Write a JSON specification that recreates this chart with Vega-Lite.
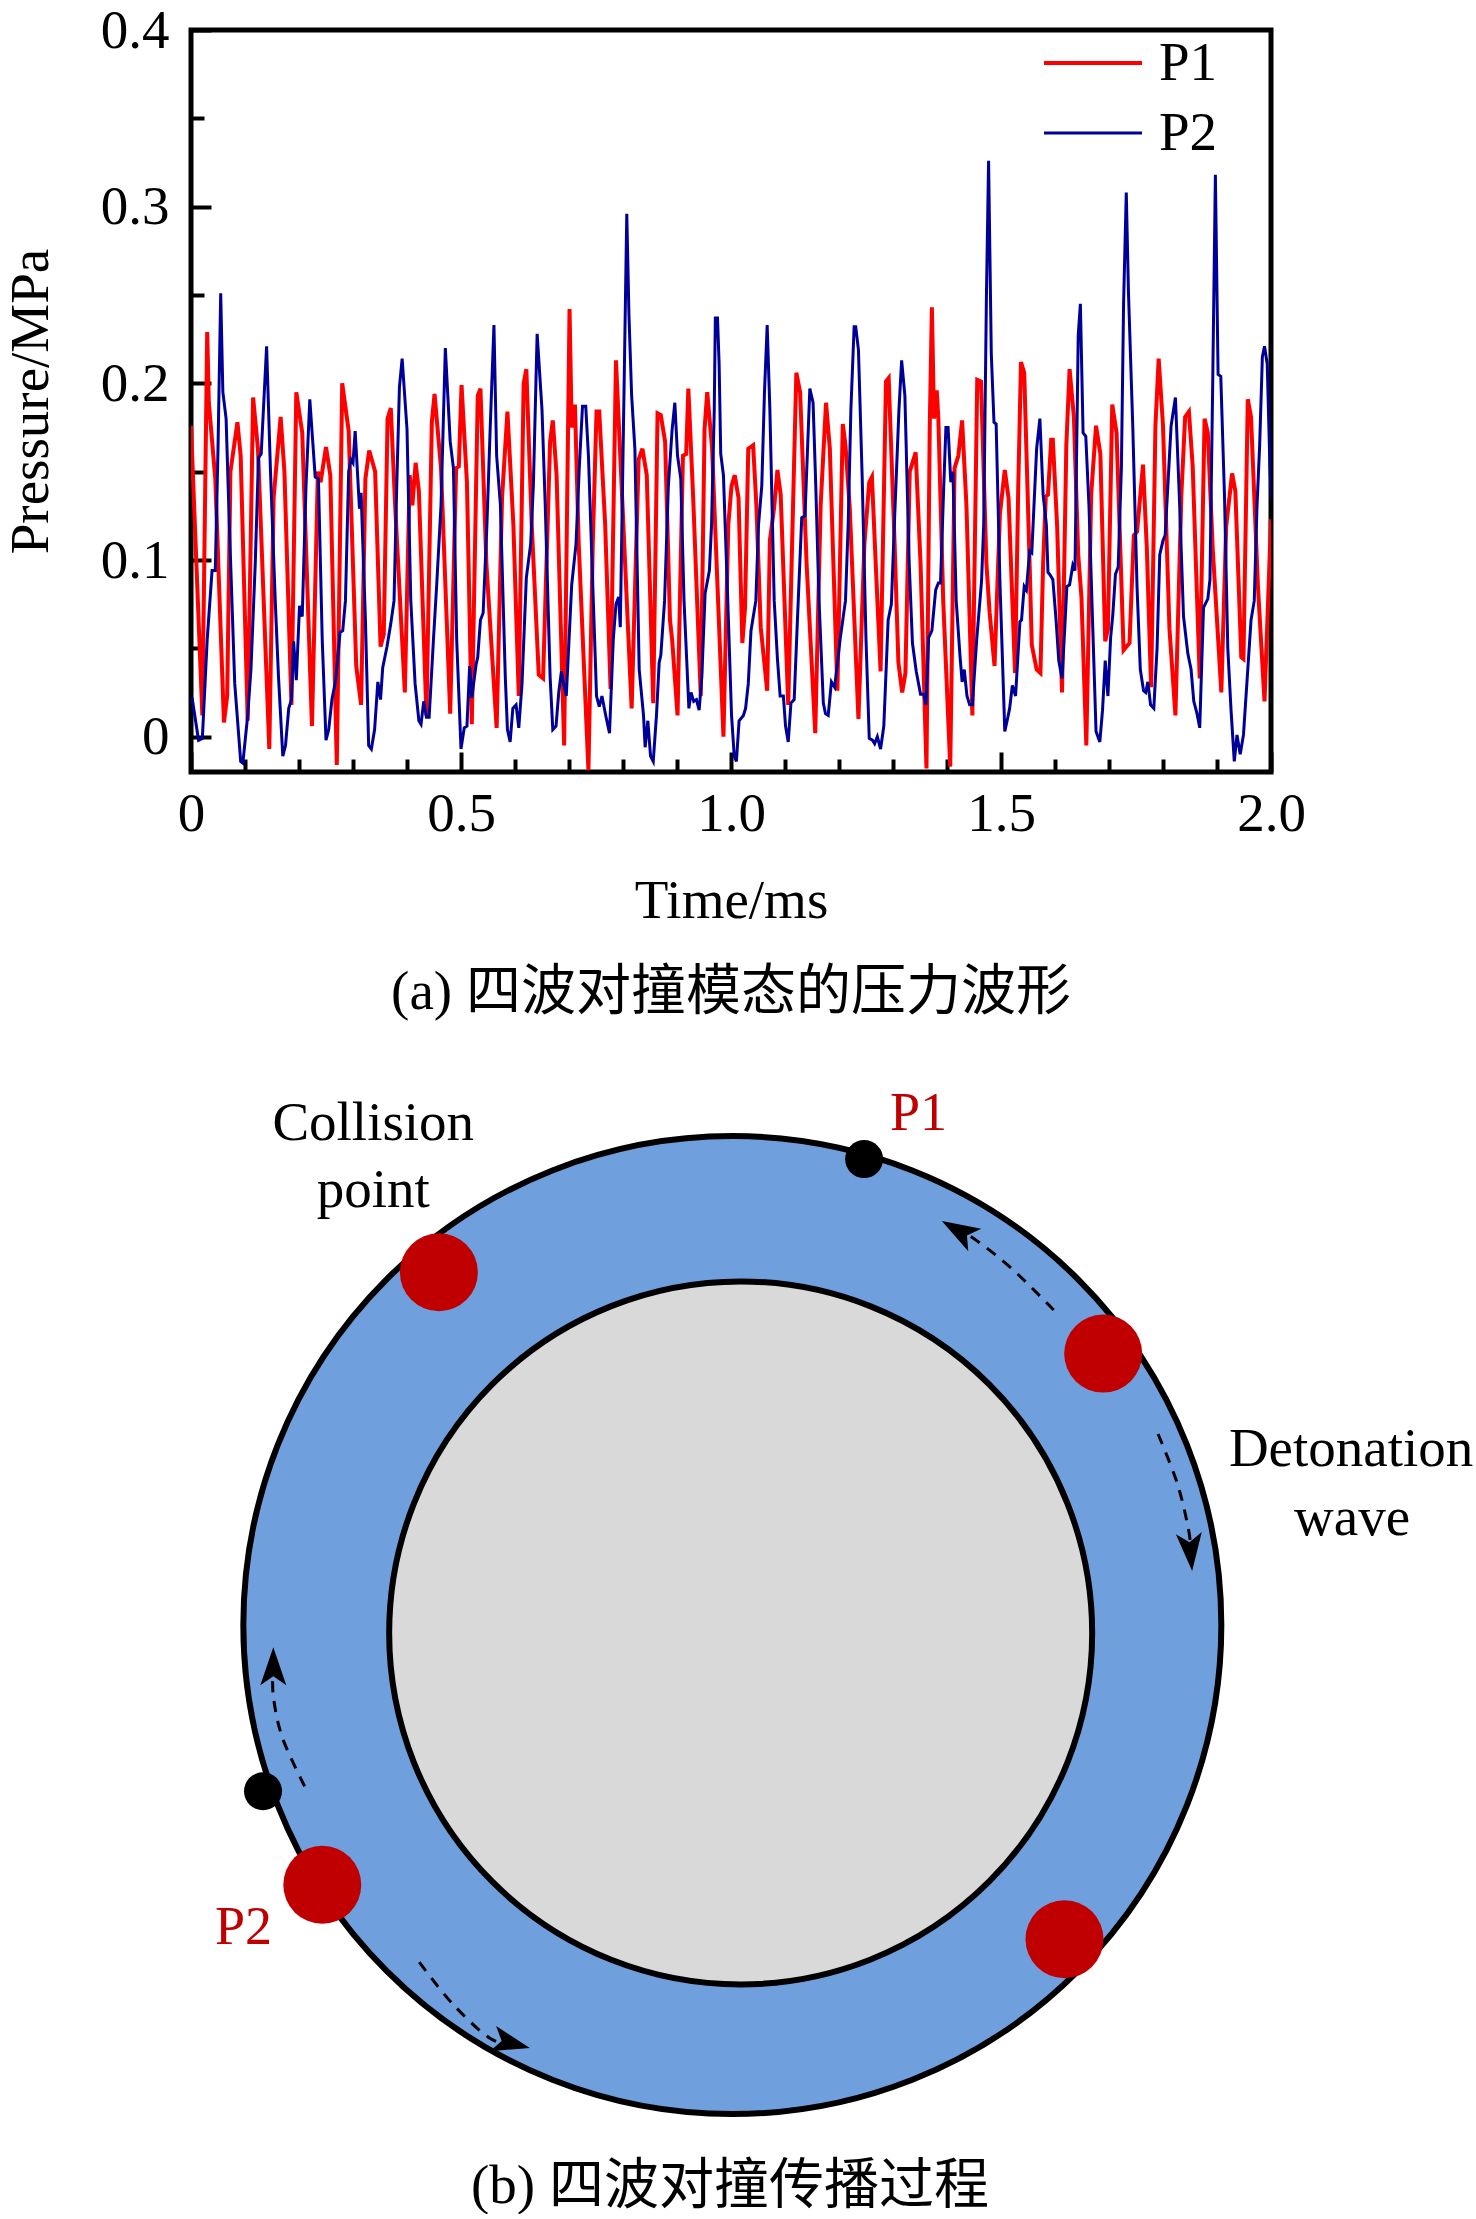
{
"$schema":"https://vega.github.io/schema/vega-lite/v6.json",
"padding":{"left":0,"top":0,"right":0,"bottom":0},
"background":"white",
"spacing":42,
"config":{"font":"Liberation Serif","style":{"guide-label":{"font":"Liberation Serif"}}},
"vconcat":[
{
"width":1080,"height":742,
"view":{"stroke":"black","strokeWidth":5,"fill":"white"},
"title":{"text":"(a) 四波对撞模态的压力波形","orient":"bottom","anchor":"middle","font":"Liberation Serif, Noto Sans CJK SC","fontSize":55,"fontWeight":"normal","color":"black","offset":38},
"data":{"values":[
{"t":0,"p":0.176,"s":"P1"},{"t":0.021,"p":0.012,"s":"P1"},{"t":0.03,"p":0.229,"s":"P1"},{"t":0.033,"p":0.189,"s":"P1"},{"t":0.045,"p":0.146,"s":"P1"},{"t":0.061,"p":0.008,"s":"P1"},{"t":0.067,"p":0.023,"s":"P1"},{"t":0.073,"p":0.15,"s":"P1"},{"t":0.086,"p":0.178,"s":"P1"},{"t":0.092,"p":0.159,"s":"P1"},{"t":0.105,"p":0.009,"s":"P1"},{"t":0.115,"p":0.192,"s":"P1"},{"t":0.124,"p":0.163,"s":"P1"},{"t":0.145,"p":-0.007,"s":"P1"},{"t":0.153,"p":0.135,"s":"P1"},{"t":0.166,"p":0.181,"s":"P1"},{"t":0.173,"p":0.15,"s":"P1"},{"t":0.186,"p":0.018,"s":"P1"},{"t":0.195,"p":0.195,"s":"P1"},{"t":0.206,"p":0.172,"s":"P1"},{"t":0.224,"p":0.006,"s":"P1"},{"t":0.235,"p":0.15,"s":"P1"},{"t":0.24,"p":0.144,"s":"P1"},{"t":0.25,"p":0.164,"s":"P1"},{"t":0.258,"p":0.148,"s":"P1"},{"t":0.27,"p":-0.016,"s":"P1"},{"t":0.28,"p":0.2,"s":"P1"},{"t":0.292,"p":0.173,"s":"P1"},{"t":0.306,"p":0.04,"s":"P1"},{"t":0.315,"p":0.018,"s":"P1"},{"t":0.323,"p":0.146,"s":"P1"},{"t":0.33,"p":0.162,"s":"P1"},{"t":0.341,"p":0.15,"s":"P1"},{"t":0.351,"p":0.051,"s":"P1"},{"t":0.357,"p":0.058,"s":"P1"},{"t":0.364,"p":0.18,"s":"P1"},{"t":0.37,"p":0.186,"s":"P1"},{"t":0.378,"p":0.131,"s":"P1"},{"t":0.396,"p":0.025,"s":"P1"},
{"t":0.405,"p":0.148,"s":"P1"},{"t":0.41,"p":0.131,"s":"P1"},{"t":0.416,"p":0.155,"s":"P1"},{"t":0.422,"p":0.139,"s":"P1"},{"t":0.436,"p":0.012,"s":"P1"},{"t":0.446,"p":0.178,"s":"P1"},{"t":0.451,"p":0.194,"s":"P1"},{"t":0.463,"p":0.152,"s":"P1"},{"t":0.48,"p":0.013,"s":"P1"},{"t":0.491,"p":0.152,"s":"P1"},{"t":0.496,"p":0.153,"s":"P1"},{"t":0.501,"p":0.199,"s":"P1"},{"t":0.511,"p":0.144,"s":"P1"},{"t":0.52,"p":0.007,"s":"P1"},{"t":0.531,"p":0.193,"s":"P1"},{"t":0.536,"p":0.197,"s":"P1"},{"t":0.547,"p":0.098,"s":"P1"},{"t":0.566,"p":0.005,"s":"P1"},{"t":0.576,"p":0.135,"s":"P1"},{"t":0.586,"p":0.184,"s":"P1"},{"t":0.597,"p":0.12,"s":"P1"},{"t":0.607,"p":0.023,"s":"P1"},{"t":0.616,"p":0.2,"s":"P1"},{"t":0.621,"p":0.208,"s":"P1"},{"t":0.631,"p":0.12,"s":"P1"},{"t":0.644,"p":0.035,"s":"P1"},{"t":0.652,"p":0.033,"s":"P1"},{"t":0.665,"p":0.167,"s":"P1"},{"t":0.67,"p":0.179,"s":"P1"},{"t":0.677,"p":0.148,"s":"P1"},{"t":0.691,"p":-0.005,"s":"P1"},{"t":0.701,"p":0.242,"s":"P1"},{"t":0.705,"p":0.175,"s":"P1"},{"t":0.711,"p":0.188,"s":"P1"},{"t":0.718,"p":0.109,"s":"P1"},{"t":0.736,"p":-0.019,"s":"P1"},{"t":0.744,"p":0.109,"s":"P1"},{"t":0.751,"p":0.184,"s":"P1"},{"t":0.756,"p":0.184,"s":"P1"},{"t":0.767,"p":0.12,"s":"P1"},{"t":0.777,"p":0.027,"s":"P1"},{"t":0.787,"p":0.213,"s":"P1"},
{"t":0.816,"p":0.016,"s":"P1"},{"t":0.829,"p":0.157,"s":"P1"},{"t":0.836,"p":0.163,"s":"P1"},{"t":0.844,"p":0.148,"s":"P1"},{"t":0.856,"p":0.019,"s":"P1"},{"t":0.864,"p":0.183,"s":"P1"},{"t":0.87,"p":0.182,"s":"P1"},{"t":0.878,"p":0.167,"s":"P1"},{"t":0.887,"p":0.066,"s":"P1"},{"t":0.891,"p":0.055,"s":"P1"},{"t":0.901,"p":0.012,"s":"P1"},{"t":0.911,"p":0.159,"s":"P1"},{"t":0.917,"p":0.16,"s":"P1"},{"t":0.921,"p":0.197,"s":"P1"},{"t":0.93,"p":0.135,"s":"P1"},{"t":0.944,"p":0.023,"s":"P1"},{"t":0.951,"p":0.174,"s":"P1"},{"t":0.956,"p":0.195,"s":"P1"},{"t":0.965,"p":0.163,"s":"P1"},{"t":0.986,"p":0,"s":"P1"},{"t":0.995,"p":0.12,"s":"P1"},{"t":1.001,"p":0.142,"s":"P1"},{"t":1.007,"p":0.148,"s":"P1"},{"t":1.014,"p":0.135,"s":"P1"},{"t":1.021,"p":0.053,"s":"P1"},{"t":1.026,"p":0.073,"s":"P1"},{"t":1.032,"p":0.163,"s":"P1"},{"t":1.041,"p":0.165,"s":"P1"},{"t":1.047,"p":0.131,"s":"P1"},{"t":1.055,"p":0.062,"s":"P1"},{"t":1.067,"p":0.026,"s":"P1"},{"t":1.072,"p":0.111,"s":"P1"},{"t":1.08,"p":0.13,"s":"P1"},{"t":1.086,"p":0.151,"s":"P1"},{"t":1.092,"p":0.137,"s":"P1"},{"t":1.106,"p":0.018,"s":"P1"},{"t":1.114,"p":0.12,"s":"P1"},{"t":1.121,"p":0.206,"s":"P1"},{"t":1.128,"p":0.195,"s":"P1"},{"t":1.14,"p":0.098,"s":"P1"},{"t":1.156,"p":0.002,"s":"P1"},{"t":1.166,"p":0.131,"s":"P1"},{"t":1.176,"p":0.189,"s":"P1"},{"t":1.183,"p":0.163,"s":"P1"},
{"t":1.197,"p":0.026,"s":"P1"},{"t":1.207,"p":0.177,"s":"P1"},{"t":1.212,"p":0.165,"s":"P1"},{"t":1.22,"p":0.129,"s":"P1"},{"t":1.236,"p":0.01,"s":"P1"},{"t":1.247,"p":0.109,"s":"P1"},{"t":1.256,"p":0.144,"s":"P1"},{"t":1.261,"p":0.147,"s":"P1"},{"t":1.268,"p":0.098,"s":"P1"},{"t":1.277,"p":0.037,"s":"P1"},{"t":1.287,"p":0.201,"s":"P1"},{"t":1.292,"p":0.203,"s":"P1"},{"t":1.303,"p":0.109,"s":"P1"},{"t":1.31,"p":0.042,"s":"P1"},{"t":1.317,"p":0.025,"s":"P1"},{"t":1.323,"p":0.036,"s":"P1"},{"t":1.331,"p":0.15,"s":"P1"},{"t":1.342,"p":0.161,"s":"P1"},{"t":1.351,"p":0.098,"s":"P1"},{"t":1.362,"p":-0.018,"s":"P1"},{"t":1.368,"p":0.174,"s":"P1"},{"t":1.372,"p":0.243,"s":"P1"},{"t":1.376,"p":0.18,"s":"P1"},{"t":1.381,"p":0.196,"s":"P1"},{"t":1.384,"p":0.18,"s":"P1"},{"t":1.393,"p":0.077,"s":"P1"},{"t":1.406,"p":-0.017,"s":"P1"},{"t":1.414,"p":0.152,"s":"P1"},{"t":1.421,"p":0.159,"s":"P1"},{"t":1.428,"p":0.179,"s":"P1"},{"t":1.436,"p":0.131,"s":"P1"},{"t":1.447,"p":0.012,"s":"P1"},{"t":1.456,"p":0.202,"s":"P1"},{"t":1.463,"p":0.201,"s":"P1"},{"t":1.473,"p":0.098,"s":"P1"},{"t":1.479,"p":0.07,"s":"P1"},{"t":1.488,"p":0.04,"s":"P1"},{"t":1.498,"p":0.126,"s":"P1"},{"t":1.507,"p":0.151,"s":"P1"},{"t":1.514,"p":0.135,"s":"P1"},{"t":1.526,"p":0.036,"s":"P1"},{"t":1.532,"p":0.142,"s":"P1"},{"t":1.537,"p":0.212,"s":"P1"},{"t":1.543,"p":0.206,"s":"P1"},{"t":1.553,"p":0.098,"s":"P1"},{"t":1.557,"p":0.052,"s":"P1"},{"t":1.566,"p":0.038,"s":"P1"},{"t":1.573,"p":0.036,"s":"P1"},{"t":1.578,"p":0.098,"s":"P1"},{"t":1.583,"p":0.136,"s":"P1"},{"t":1.587,"p":0.137,"s":"P1"},{"t":1.593,"p":0.168,"s":"P1"},
{"t":1.596,"p":0.168,"s":"P1"},{"t":1.604,"p":0.119,"s":"P1"},{"t":1.613,"p":0.025,"s":"P1"},{"t":1.621,"p":0.165,"s":"P1"},{"t":1.627,"p":0.208,"s":"P1"},{"t":1.635,"p":0.181,"s":"P1"},{"t":1.643,"p":0.103,"s":"P1"},{"t":1.649,"p":0.079,"s":"P1"},{"t":1.658,"p":-0.005,"s":"P1"},{"t":1.667,"p":0.137,"s":"P1"},{"t":1.676,"p":0.176,"s":"P1"},{"t":1.684,"p":0.16,"s":"P1"},{"t":1.693,"p":0.054,"s":"P1"},{"t":1.698,"p":0.061,"s":"P1"},{"t":1.706,"p":0.188,"s":"P1"},{"t":1.714,"p":0.172,"s":"P1"},{"t":1.727,"p":0.049,"s":"P1"},{"t":1.738,"p":0.053,"s":"P1"},{"t":1.746,"p":0.114,"s":"P1"},{"t":1.752,"p":0.116,"s":"P1"},{"t":1.763,"p":0.154,"s":"P1"},{"t":1.77,"p":0.107,"s":"P1"},{"t":1.778,"p":0.028,"s":"P1"},{"t":1.786,"p":0.176,"s":"P1"},{"t":1.792,"p":0.214,"s":"P1"},{"t":1.8,"p":0.176,"s":"P1"},{"t":1.812,"p":0.061,"s":"P1"},{"t":1.823,"p":0.012,"s":"P1"},{"t":1.834,"p":0.137,"s":"P1"},{"t":1.841,"p":0.181,"s":"P1"},{"t":1.848,"p":0.184,"s":"P1"},{"t":1.855,"p":0.153,"s":"P1"},{"t":1.868,"p":0.033,"s":"P1"},{"t":1.877,"p":0.18,"s":"P1"},{"t":1.883,"p":0.172,"s":"P1"},{"t":1.892,"p":0.107,"s":"P1"},{"t":1.908,"p":0.025,"s":"P1"},{"t":1.917,"p":0.119,"s":"P1"},{"t":1.928,"p":0.149,"s":"P1"},{"t":1.934,"p":0.139,"s":"P1"},{"t":1.945,"p":0.045,"s":"P1"},{"t":1.949,"p":0.044,"s":"P1"},{"t":1.957,"p":0.191,"s":"P1"},{"t":1.963,"p":0.181,"s":"P1"},{"t":1.976,"p":0.084,"s":"P1"},{"t":1.988,"p":0.02,"s":"P1"},{"t":2,"p":0.123,"s":"P1"},
{"t":0.002,"p":0.022,"s":"P2"},{"t":0.014,"p":-0.002,"s":"P2"},{"t":0.021,"p":-0.001,"s":"P2"},{"t":0.03,"p":0.055,"s":"P2"},{"t":0.039,"p":0.094,"s":"P2"},{"t":0.045,"p":0.094,"s":"P2"},{"t":0.05,"p":0.163,"s":"P2"},{"t":0.055,"p":0.251,"s":"P2"},{"t":0.059,"p":0.195,"s":"P2"},{"t":0.065,"p":0.18,"s":"P2"},{"t":0.071,"p":0.12,"s":"P2"},{"t":0.081,"p":0.03,"s":"P2"},{"t":0.085,"p":0.014,"s":"P2"},{"t":0.092,"p":-0.014,"s":"P2"},{"t":0.096,"p":-0.015,"s":"P2"},{"t":0.105,"p":0.012,"s":"P2"},{"t":0.111,"p":0.038,"s":"P2"},{"t":0.119,"p":0.098,"s":"P2"},{"t":0.125,"p":0.158,"s":"P2"},{"t":0.13,"p":0.16,"s":"P2"},{"t":0.14,"p":0.221,"s":"P2"},{"t":0.147,"p":0.152,"s":"P2"},{"t":0.156,"p":0.077,"s":"P2"},{"t":0.162,"p":0.034,"s":"P2"},{"t":0.17,"p":-0.011,"s":"P2"},{"t":0.175,"p":-0.005,"s":"P2"},{"t":0.181,"p":0.016,"s":"P2"},{"t":0.186,"p":0.021,"s":"P2"},{"t":0.19,"p":0.054,"s":"P2"},{"t":0.195,"p":0.032,"s":"P2"},{"t":0.201,"p":0.074,"s":"P2"},{"t":0.206,"p":0.068,"s":"P2"},{"t":0.213,"p":0.142,"s":"P2"},{"t":0.22,"p":0.191,"s":"P2"},{"t":0.23,"p":0.147,"s":"P2"},{"t":0.236,"p":0.146,"s":"P2"},{"t":0.243,"p":0.055,"s":"P2"},{"t":0.25,"p":-0.002,"s":"P2"},{"t":0.255,"p":0.004,"s":"P2"},{"t":0.261,"p":0.021,"s":"P2"},{"t":0.268,"p":0.032,"s":"P2"},{"t":0.276,"p":0.059,"s":"P2"},{"t":0.281,"p":0.06,"s":"P2"},{"t":0.286,"p":0.077,"s":"P2"},{"t":0.292,"p":0.15,"s":"P2"},{"t":0.296,"p":0.157,"s":"P2"},{"t":0.3,"p":0.155,"s":"P2"},{"t":0.304,"p":0.173,"s":"P2"},{"t":0.312,"p":0.129,"s":"P2"},{"t":0.315,"p":0.138,"s":"P2"},{"t":0.323,"p":0.066,"s":"P2"},{"t":0.329,"p":-0.005,"s":"P2"},{"t":0.334,"p":-0.007,"s":"P2"},{"t":0.34,"p":0.004,"s":"P2"},{"t":0.346,"p":0.031,"s":"P2"},{"t":0.351,"p":0.021,"s":"P2"},{"t":0.355,"p":0.039,"s":"P2"},{"t":0.363,"p":0.051,"s":"P2"},{"t":0.37,"p":0.064,"s":"P2"},{"t":0.376,"p":0.077,"s":"P2"},{"t":0.381,"p":0.142,"s":"P2"},{"t":0.386,"p":0.198,"s":"P2"},{"t":0.391,"p":0.214,"s":"P2"},
{"t":0.4,"p":0.174,"s":"P2"},{"t":0.407,"p":0.077,"s":"P2"},{"t":0.415,"p":0.03,"s":"P2"},{"t":0.422,"p":0.009,"s":"P2"},{"t":0.426,"p":0.007,"s":"P2"},{"t":0.431,"p":0.02,"s":"P2"},{"t":0.436,"p":0.011,"s":"P2"},{"t":0.441,"p":0.011,"s":"P2"},{"t":0.449,"p":0.055,"s":"P2"},{"t":0.455,"p":0.086,"s":"P2"},{"t":0.463,"p":0.131,"s":"P2"},{"t":0.471,"p":0.22,"s":"P2"},{"t":0.48,"p":0.167,"s":"P2"},{"t":0.486,"p":0.152,"s":"P2"},{"t":0.492,"p":0.055,"s":"P2"},{"t":0.5,"p":-0.007,"s":"P2"},{"t":0.506,"p":0.005,"s":"P2"},{"t":0.511,"p":0.006,"s":"P2"},{"t":0.516,"p":0.04,"s":"P2"},{"t":0.52,"p":0.022,"s":"P2"},{"t":0.528,"p":0.041,"s":"P2"},{"t":0.531,"p":0.045,"s":"P2"},{"t":0.536,"p":0.066,"s":"P2"},{"t":0.541,"p":0.07,"s":"P2"},{"t":0.548,"p":0.12,"s":"P2"},{"t":0.554,"p":0.174,"s":"P2"},{"t":0.561,"p":0.233,"s":"P2"},{"t":0.566,"p":0.159,"s":"P2"},{"t":0.573,"p":0.131,"s":"P2"},{"t":0.582,"p":0.034,"s":"P2"},{"t":0.586,"p":0.004,"s":"P2"},{"t":0.591,"p":-0.003,"s":"P2"},{"t":0.596,"p":0.016,"s":"P2"},{"t":0.602,"p":0.018,"s":"P2"},{"t":0.607,"p":0.005,"s":"P2"},{"t":0.613,"p":0.03,"s":"P2"},{"t":0.621,"p":0.09,"s":"P2"},{"t":0.629,"p":0.109,"s":"P2"},{"t":0.634,"p":0.142,"s":"P2"},{"t":0.641,"p":0.228,"s":"P2"},{"t":0.65,"p":0.185,"s":"P2"},{"t":0.656,"p":0.131,"s":"P2"},{"t":0.665,"p":0.034,"s":"P2"},{"t":0.67,"p":0.004,"s":"P2"},{"t":0.676,"p":0.006,"s":"P2"},{"t":0.681,"p":0.025,"s":"P2"},{"t":0.686,"p":0.037,"s":"P2"},{"t":0.69,"p":0.03,"s":"P2"},{"t":0.695,"p":0.023,"s":"P2"},{"t":0.705,"p":0.086,"s":"P2"},{"t":0.713,"p":0.109,"s":"P2"},{"t":0.719,"p":0.152,"s":"P2"},{"t":0.725,"p":0.187,"s":"P2"},{"t":0.731,"p":0.187,"s":"P2"},{"t":0.736,"p":0.159,"s":"P2"},{"t":0.745,"p":0.077,"s":"P2"},{"t":0.751,"p":0.023,"s":"P2"},{"t":0.756,"p":0.017,"s":"P2"},{"t":0.761,"p":0.023,"s":"P2"},{"t":0.768,"p":0.012,"s":"P2"},{"t":0.775,"p":0.002,"s":"P2"},{"t":0.782,"p":0.055,"s":"P2"},{"t":0.787,"p":0.075,"s":"P2"},{"t":0.792,"p":0.079,"s":"P2"},
{"t":0.795,"p":0.062,"s":"P2"},{"t":0.803,"p":0.217,"s":"P2"},{"t":0.807,"p":0.296,"s":"P2"},{"t":0.811,"p":0.239,"s":"P2"},{"t":0.816,"p":0.193,"s":"P2"},{"t":0.822,"p":0.163,"s":"P2"},{"t":0.83,"p":0.038,"s":"P2"},{"t":0.838,"p":0.012,"s":"P2"},{"t":0.841,"p":-0.006,"s":"P2"},{"t":0.846,"p":0.009,"s":"P2"},{"t":0.851,"p":-0.011,"s":"P2"},{"t":0.856,"p":-0.014,"s":"P2"},{"t":0.862,"p":0.012,"s":"P2"},{"t":0.867,"p":0.042,"s":"P2"},{"t":0.87,"p":0.046,"s":"P2"},{"t":0.877,"p":0.077,"s":"P2"},{"t":0.884,"p":0.142,"s":"P2"},{"t":0.891,"p":0.174,"s":"P2"},{"t":0.896,"p":0.189,"s":"P2"},{"t":0.901,"p":0.159,"s":"P2"},{"t":0.907,"p":0.146,"s":"P2"},{"t":0.913,"p":0.077,"s":"P2"},{"t":0.922,"p":0.016,"s":"P2"},{"t":0.926,"p":0.025,"s":"P2"},{"t":0.931,"p":0.02,"s":"P2"},{"t":0.936,"p":0.021,"s":"P2"},{"t":0.941,"p":0.015,"s":"P2"},{"t":0.946,"p":0.034,"s":"P2"},{"t":0.952,"p":0.081,"s":"P2"},{"t":0.96,"p":0.094,"s":"P2"},{"t":0.964,"p":0.12,"s":"P2"},{"t":0.969,"p":0.185,"s":"P2"},{"t":0.971,"p":0.237,"s":"P2"},{"t":0.975,"p":0.237,"s":"P2"},{"t":0.978,"p":0.211,"s":"P2"},{"t":0.981,"p":0.16,"s":"P2"},{"t":0.986,"p":0.148,"s":"P2"},{"t":0.994,"p":0.077,"s":"P2"},{"t":1.001,"p":0.012,"s":"P2"},{"t":1.006,"p":-0.011,"s":"P2"},{"t":1.01,"p":-0.014,"s":"P2"},{"t":1.015,"p":0.009,"s":"P2"},{"t":1.023,"p":0.012,"s":"P2"},{"t":1.027,"p":0.016,"s":"P2"},{"t":1.032,"p":0.03,"s":"P2"},{"t":1.037,"p":0.06,"s":"P2"},{"t":1.046,"p":0.077,"s":"P2"},{"t":1.051,"p":0.12,"s":"P2"},{"t":1.057,"p":0.142,"s":"P2"},{"t":1.062,"p":0.195,"s":"P2"},{"t":1.067,"p":0.233,"s":"P2"},{"t":1.072,"p":0.185,"s":"P2"},{"t":1.08,"p":0.077,"s":"P2"},{"t":1.086,"p":0.044,"s":"P2"},{"t":1.091,"p":0.023,"s":"P2"},{"t":1.097,"p":0.023,"s":"P2"},{"t":1.101,"p":0.006,"s":"P2"},{"t":1.106,"p":-0.003,"s":"P2"},{"t":1.111,"p":0.019,"s":"P2"},{"t":1.117,"p":0.021,"s":"P2"},{"t":1.123,"p":0.066,"s":"P2"},{"t":1.131,"p":0.124,"s":"P2"},{"t":1.137,"p":0.125,"s":"P2"},{"t":1.146,"p":0.197,"s":"P2"},{"t":1.152,"p":0.189,"s":"P2"},{"t":1.157,"p":0.142,"s":"P2"},{"t":1.163,"p":0.077,"s":"P2"},{"t":1.171,"p":0.019,"s":"P2"},{"t":1.175,"p":0.013,"s":"P2"},{"t":1.18,"p":0.012,"s":"P2"},{"t":1.186,"p":0.031,"s":"P2"},{"t":1.192,"p":0.028,"s":"P2"},
{"t":1.202,"p":0.055,"s":"P2"},{"t":1.212,"p":0.077,"s":"P2"},{"t":1.217,"p":0.12,"s":"P2"},{"t":1.222,"p":0.185,"s":"P2"},{"t":1.228,"p":0.232,"s":"P2"},{"t":1.231,"p":0.232,"s":"P2"},{"t":1.236,"p":0.219,"s":"P2"},{"t":1.243,"p":0.146,"s":"P2"},{"t":1.25,"p":0.055,"s":"P2"},{"t":1.256,"p":-0.001,"s":"P2"},{"t":1.262,"p":-0.002,"s":"P2"},{"t":1.266,"p":-0.004,"s":"P2"},{"t":1.271,"p":0,"s":"P2"},{"t":1.277,"p":-0.007,"s":"P2"},{"t":1.283,"p":0.006,"s":"P2"},{"t":1.291,"p":0.066,"s":"P2"},{"t":1.297,"p":0.075,"s":"P2"},{"t":1.303,"p":0.124,"s":"P2"},{"t":1.311,"p":0.185,"s":"P2"},{"t":1.316,"p":0.213,"s":"P2"},{"t":1.322,"p":0.193,"s":"P2"},{"t":1.33,"p":0.098,"s":"P2"},{"t":1.336,"p":0.053,"s":"P2"},{"t":1.343,"p":0.037,"s":"P2"},{"t":1.351,"p":0.024,"s":"P2"},{"t":1.357,"p":0.024,"s":"P2"},{"t":1.361,"p":0.018,"s":"P2"},{"t":1.366,"p":0.056,"s":"P2"},{"t":1.372,"p":0.06,"s":"P2"},{"t":1.379,"p":0.083,"s":"P2"},{"t":1.384,"p":0.087,"s":"P2"},{"t":1.388,"p":0.087,"s":"P2"},{"t":1.394,"p":0.142,"s":"P2"},{"t":1.398,"p":0.175,"s":"P2"},{"t":1.402,"p":0.175,"s":"P2"},{"t":1.407,"p":0.144,"s":"P2"},{"t":1.411,"p":0.15,"s":"P2"},{"t":1.417,"p":0.077,"s":"P2"},{"t":1.424,"p":0.046,"s":"P2"},{"t":1.428,"p":0.031,"s":"P2"},{"t":1.432,"p":0.038,"s":"P2"},{"t":1.437,"p":0.023,"s":"P2"},{"t":1.442,"p":0.018,"s":"P2"},{"t":1.447,"p":0.018,"s":"P2"},{"t":1.455,"p":0.055,"s":"P2"},{"t":1.464,"p":0.088,"s":"P2"},{"t":1.468,"p":0.12,"s":"P2"},{"t":1.473,"p":0.249,"s":"P2"},{"t":1.477,"p":0.326,"s":"P2"},{"t":1.482,"p":0.217,"s":"P2"},{"t":1.487,"p":0.178,"s":"P2"},{"t":1.491,"p":0.177,"s":"P2"},{"t":1.498,"p":0.088,"s":"P2"},{"t":1.507,"p":0.003,"s":"P2"},{"t":1.512,"p":0.01,"s":"P2"},{"t":1.516,"p":0.016,"s":"P2"},{"t":1.521,"p":0.029,"s":"P2"},{"t":1.527,"p":0.023,"s":"P2"},{"t":1.535,"p":0.065,"s":"P2"},{"t":1.538,"p":0.066,"s":"P2"},{"t":1.543,"p":0.085,"s":"P2"},{"t":1.547,"p":0.083,"s":"P2"},{"t":1.553,"p":0.105,"s":"P2"},{"t":1.557,"p":0.104,"s":"P2"},{"t":1.566,"p":0.163,"s":"P2"},{"t":1.572,"p":0.18,"s":"P2"},{"t":1.578,"p":0.137,"s":"P2"},{"t":1.584,"p":0.12,"s":"P2"},{"t":1.587,"p":0.093,"s":"P2"},
{"t":1.59,"p":0.092,"s":"P2"},{"t":1.596,"p":0.089,"s":"P2"},{"t":1.602,"p":0.066,"s":"P2"},{"t":1.607,"p":0.043,"s":"P2"},{"t":1.613,"p":0.033,"s":"P2"},{"t":1.618,"p":0.061,"s":"P2"},{"t":1.622,"p":0.085,"s":"P2"},{"t":1.627,"p":0.086,"s":"P2"},{"t":1.633,"p":0.097,"s":"P2"},{"t":1.637,"p":0.094,"s":"P2"},{"t":1.643,"p":0.227,"s":"P2"},{"t":1.647,"p":0.245,"s":"P2"},{"t":1.652,"p":0.172,"s":"P2"},{"t":1.657,"p":0.17,"s":"P2"},{"t":1.663,"p":0.13,"s":"P2"},{"t":1.67,"p":0.061,"s":"P2"},{"t":1.676,"p":0.003,"s":"P2"},{"t":1.683,"p":-0.003,"s":"P2"},{"t":1.688,"p":0.015,"s":"P2"},{"t":1.693,"p":0.043,"s":"P2"},{"t":1.698,"p":0.023,"s":"P2"},{"t":1.703,"p":0.056,"s":"P2"},{"t":1.707,"p":0.069,"s":"P2"},{"t":1.712,"p":0.092,"s":"P2"},{"t":1.717,"p":0.096,"s":"P2"},{"t":1.723,"p":0.153,"s":"P2"},{"t":1.727,"p":0.245,"s":"P2"},{"t":1.732,"p":0.308,"s":"P2"},{"t":1.736,"p":0.252,"s":"P2"},{"t":1.744,"p":0.176,"s":"P2"},{"t":1.752,"p":0.084,"s":"P2"},{"t":1.758,"p":0.038,"s":"P2"},{"t":1.764,"p":0.026,"s":"P2"},{"t":1.768,"p":0.025,"s":"P2"},{"t":1.772,"p":0.031,"s":"P2"},{"t":1.777,"p":0.018,"s":"P2"},{"t":1.783,"p":0.016,"s":"P2"},{"t":1.789,"p":0.05,"s":"P2"},{"t":1.794,"p":0.103,"s":"P2"},{"t":1.8,"p":0.111,"s":"P2"},{"t":1.804,"p":0.114,"s":"P2"},{"t":1.809,"p":0.142,"s":"P2"},{"t":1.815,"p":0.176,"s":"P2"},{"t":1.823,"p":0.192,"s":"P2"},{"t":1.831,"p":0.13,"s":"P2"},{"t":1.838,"p":0.068,"s":"P2"},{"t":1.846,"p":0.047,"s":"P2"},{"t":1.852,"p":0.038,"s":"P2"},{"t":1.857,"p":0.02,"s":"P2"},{"t":1.863,"p":0.013,"s":"P2"},{"t":1.868,"p":0.005,"s":"P2"},{"t":1.875,"p":0.073,"s":"P2"},{"t":1.883,"p":0.078,"s":"P2"},{"t":1.887,"p":0.089,"s":"P2"},{"t":1.892,"p":0.199,"s":"P2"},{"t":1.897,"p":0.318,"s":"P2"},{"t":1.902,"p":0.205,"s":"P2"},{"t":1.907,"p":0.204,"s":"P2"},{"t":1.914,"p":0.135,"s":"P2"},{"t":1.92,"p":0.05,"s":"P2"},{"t":1.926,"p":0.015,"s":"P2"},{"t":1.932,"p":-0.014,"s":"P2"},{"t":1.937,"p":0.001,"s":"P2"},{"t":1.943,"p":-0.01,"s":"P2"},{"t":1.949,"p":0.001,"s":"P2"},{"t":1.957,"p":0.038,"s":"P2"},{"t":1.963,"p":0.066,"s":"P2"},{"t":1.969,"p":0.077,"s":"P2"},{"t":1.974,"p":0.13,"s":"P2"},{"t":1.979,"p":0.165,"s":"P2"},{"t":1.984,"p":0.215,"s":"P2"},{"t":1.988,"p":0.221,"s":"P2"},{"t":1.993,"p":0.211,"s":"P2"},{"t":1.998,"p":0.153,"s":"P2"},{"t":2,"p":0.135,"s":"P2"}
]},
"mark":{"type":"line","clip":true},
"encoding":{
"x":{"field":"t","type":"quantitative","scale":{"domain":[0,2],"nice":false},
"axis":{"title":"Time/ms","titleFontSize":55,"titleFont":"Liberation Serif","titleFontWeight":"normal","titleColor":"black","titlePadding":26,"values":[0,0.1,0.2,0.3,0.4,0.5,0.6,0.7,0.8,0.9,1,1.1,1.2,1.3,1.4,1.5,1.6,1.7,1.8,1.9,2],"labelExpr":"datum.value==0?'0':(round(datum.value*10)%5==0?format(datum.value,'.1f'):'')","labelFontSize":55,"labelColor":"black","labelPadding":35,"labelFlush":false,"labelOverlap":false,"labelBound":false,"grid":false,"domain":false,"tickColor":"black","tickWidth":4,"tickSize":{"expr":"round(datum.value*10)%5==0?-20:-13"}}},
"y":{"field":"p","type":"quantitative","scale":{"domain":[-0.02,0.4],"nice":false,"zero":false},
"axis":{"title":"Pressure/MPa","titleFontSize":55,"titleFont":"Liberation Serif","titleFontWeight":"normal","titleColor":"black","titlePadding":41,"values":[0,0.05,0.1,0.15,0.2,0.25,0.3,0.35,0.4],"labelExpr":"datum.value==0?'0':(round(datum.value*20)%2==0?format(datum.value,'.1f'):'')","labelFontSize":55,"labelColor":"black","labelPadding":42,"labelFlush":false,"labelOverlap":false,"labelBound":false,"grid":false,"domain":false,"tickColor":"black","tickWidth":4,"tickSize":{"expr":"round(datum.value*20)%2==0?-20:-13"}}},
"color":{"field":"s","type":"nominal","scale":{"domain":["P1","P2"],"range":["#ff0000","#000099"]},
"legend":{"title":null,"orient":"none","legendX":851,"legendY":-2,"symbolType":"stroke","symbolSize":9604,"symbolStrokeWidth":3,"labelFontSize":55,"labelFont":"Liberation Serif","labelColor":"black","labelOffset":15,"clipHeight":70,"rowPadding":0,"padding":0}},
"strokeWidth":{"field":"s","type":"nominal","scale":{"domain":["P1","P2"],"range":[4,3]},"legend":null}
}
},
{
"width":1285,"height":1080,
"view":{"stroke":null},
"title":{"text":"(b) 四波对撞传播过程","orient":"bottom","anchor":"start","dx":280,"font":"Liberation Serif, Noto Sans CJK SC","fontSize":55,"fontWeight":"normal","color":"black","offset":15},
"encoding":{
"x":{"field":"u","type":"quantitative","axis":null,"scale":{"domain":[-110.5,151.8],"nice":false,"zero":false}},
"y":{"field":"w","type":"quantitative","axis":null,"scale":{"domain":[-106.1,114.3],"nice":false,"zero":false}}
},
"layer":[
{"data":{"values":[{"u":0,"w":0}]},"mark":{"type":"point","shape":"circle","filled":true,"opacity":1,"size":956484,"fill":"#6f9fdc","stroke":"black","strokeWidth":6}},
{"data":{"values":[{"u":1.7,"w":-1.6}]},"mark":{"type":"point","shape":"circle","filled":true,"opacity":1,"size":494209,"fill":"#d9d9d9","stroke":"black","strokeWidth":6}},
{"data":{"values":[{"u":-59.9,"w":72.0},{"u":75.7,"w":55.4},{"u":-83.7,"w":-53.0},{"u":67.8,"w":-64.1}]},"mark":{"type":"point","shape":"circle","filled":true,"opacity":1,"size":6084,"color":"#c00000"}},
{"data":{"values":[{"u":26.9,"w":95.1},{"u":-95.8,"w":-33.9}]},"mark":{"type":"point","shape":"circle","filled":true,"opacity":1,"size":1444,"color":"black"}},
{"data":{"values":[
{"a":"A1","u":65.6,"w":64.3},{"a":"A1","u":57.1,"w":72.7},{"a":"A1","u":49.4,"w":78.8},{"a":"A1","u":44.5,"w":81.6},
{"a":"A2","u":86.9,"w":39.0},{"a":"A2","u":90.8,"w":29.0},{"a":"A2","u":93.1,"w":19.6},{"a":"A2","u":93.7,"w":14.3},
{"a":"A3","u":-87.3,"w":-32.9},{"a":"A3","u":-91.8,"w":-23.1},{"a":"A3","u":-93.7,"w":-14.5},{"a":"A3","u":-93.7,"w":-8.2},
{"a":"A4","u":-63.9,"w":-68.8},{"a":"A4","u":-57.1,"w":-77.3},{"a":"A4","u":-49.5,"w":-84.3},{"a":"A4","u":-44.3,"w":-85.7}
]},"mark":{"type":"line","interpolate":"cardinal","color":"black","strokeWidth":3,"strokeDash":[11,9]},"encoding":{"detail":{"field":"a"},"order":{"value":null}}},
{"data":{"values":[{"u":46.3,"w":80.4}]},"mark":{"type":"point","shape":"M0,-1L0.65,0.9L0,0.45L-0.65,0.9Z","filled":true,"opacity":1,"size":1600,"color":"black","angle":300}},
{"data":{"values":[{"u":93.5,"w":15.1}]},"mark":{"type":"point","shape":"M0,-1L0.65,0.9L0,0.45L-0.65,0.9Z","filled":true,"opacity":1,"size":1600,"color":"black","angle":175}},
{"data":{"values":[{"u":-93.7,"w":-8.6}]},"mark":{"type":"point","shape":"M0,-1L0.65,0.9L0,0.45L-0.65,0.9Z","filled":true,"opacity":1,"size":1600,"color":"black","angle":0}},
{"data":{"values":[{"u":-45.3,"w":-85.3}]},"mark":{"type":"point","shape":"M0,-1L0.65,0.9L0,0.45L-0.65,0.9Z","filled":true,"opacity":1,"size":1600,"color":"black","angle":104}},
{"data":{"values":[{"u":-73.3,"w":102.4,"label":"Collision"},{"u":-73.3,"w":88.7,"label":"point"},{"u":126.3,"w":35.9,"label":"Detonation"},{"u":126.5,"w":21.9,"label":"wave"}]},"mark":{"type":"text","font":"Liberation Serif","fontSize":55,"color":"black","align":"center","baseline":"middle"},"encoding":{"text":{"field":"label"}}},
{"data":{"values":[{"u":38.0,"w":104.2,"label":"P1"},{"u":-99.8,"w":-61.9,"label":"P2"}]},"mark":{"type":"text","font":"Liberation Serif","fontSize":54,"color":"#c00000","align":"center","baseline":"middle"},"encoding":{"text":{"field":"label"}}}
]
}
]
}
